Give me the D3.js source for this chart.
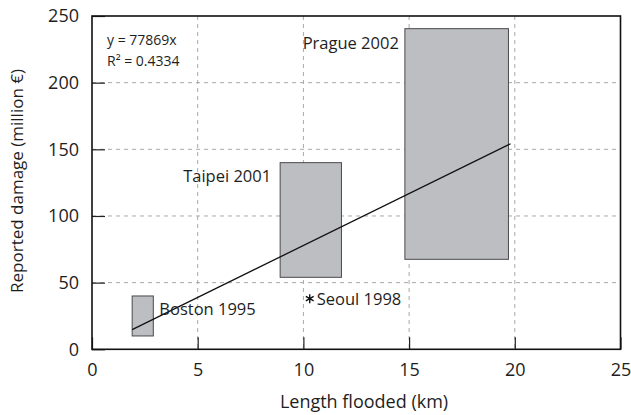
<!DOCTYPE html>
<html>
<head>
<meta charset="utf-8">
<script src="https://cdn.jsdelivr.net/npm/d3@7"></script>
<style>
  html, body { margin: 0; padding: 0; background: #fff; }
  svg { display: block; }
  text { font-family: "Open Sans", "Noto Sans", sans-serif; font-weight: 400; fill: #1e1e1e; }
</style>
</head>
<body>
<svg id="chart" width="631" height="415"></svg>
<script>
// Flood events: extent of flooded length (km) and reported damage (million €)
const events   = ["Boston 1995", "Taipei 2001", "Prague 2002"];
const lenMin   = [1.9, 8.9, 14.8];
const lenMax   = [2.9, 11.8, 19.7];
const dmgMin   = [10, 54, 67.5];
const dmgMax   = [40, 140, 240.5];

// Single point event
const pointName = ["Seoul 1998"];
const pointLen  = [10.3];
const pointDmg  = [38];

// Linear fit through the origin: damage = 7.7869 * length
const fitSlope  = 7.7869;
const fitRange  = [1.9, 19.8];
const fitText   = ["y = 77869x", "R² = 0.4334"];

const xTicks = [0, 5, 10, 15, 20, 25];
const yTicks = [0, 50, 100, 150, 200, 250];

const svg = d3.select("#chart");
const plotL = 92, plotR = 620.5, plotT = 16, plotB = 349.3;

const x = d3.scaleLinear().domain([0, 25]).range([plotL, plotR]);
const y = d3.scaleLinear().domain([0, 250]).range([plotB, plotT]);

// Dashed grid
const grid = svg.append("g");
grid.selectAll("line.gx").data(xTicks.slice(1, -1)).join("line")
  .attr("x1", d => x(d)).attr("x2", d => x(d))
  .attr("y1", plotT).attr("y2", plotB)
  .attr("stroke", "#a8a8a8").attr("stroke-width", 1).attr("stroke-dasharray", "4,4");
grid.selectAll("line.gy").data(yTicks.slice(1, -1)).join("line")
  .attr("x1", plotL).attr("x2", plotR)
  .attr("y1", d => y(d)).attr("y2", d => y(d))
  .attr("stroke", "#a8a8a8").attr("stroke-width", 1).attr("stroke-dasharray", "4,4");

// Range boxes
svg.append("g").selectAll("rect").data(events).join("rect")
  .attr("x", (d, i) => x(lenMin[i]))
  .attr("y", (d, i) => y(dmgMax[i]))
  .attr("width", (d, i) => x(lenMax[i]) - x(lenMin[i]))
  .attr("height", (d, i) => y(dmgMin[i]) - y(dmgMax[i]))
  .attr("fill", "#bdbec2").attr("stroke", "#4a4a4a").attr("stroke-width", 1);

// Trend line
svg.append("line")
  .attr("x1", x(fitRange[0])).attr("y1", y(fitSlope * fitRange[0]))
  .attr("x2", x(fitRange[1])).attr("y2", y(fitSlope * fitRange[1]))
  .attr("stroke", "#111").attr("stroke-width", 1.3);

// Event labels placed beside their boxes
const place = {
  "Boston 1995": { side: "right", gap: 6,  dy: -1 },
  "Taipei 2001": { side: "left",  gap: 9,  dy: -19 },
  "Prague 2002": { side: "left",  gap: 6,  dy: -20 }
};
svg.append("g").selectAll("text").data(events).join("text")
  .attr("x", (d, i) => place[d].side === "right" ? x(lenMax[i]) + place[d].gap : x(lenMin[i]) - place[d].gap)
  .attr("y", (d, i) => place[d].side === "right"
      ? y((dmgMin[i] + dmgMax[i]) / 2) + place[d].dy
      : y(dmgMax[i]) - place[d].dy)
  .attr("text-anchor", d => place[d].side === "right" ? "start" : "end")
  .style("font-size", "16.5px")
  .text(d => d);

// Point event: asterisk marker with label
const ptGroup = svg.append("g");
pointName.forEach((name, i) => {
  const cx = x(pointLen[i]), cy = y(pointDmg[i]), r = 4.5;
  const p = d3.path();
  for (let k = 0; k < 3; k++) {
    const a = Math.PI / 2 + k * Math.PI / 3;
    p.moveTo(cx + r * Math.cos(a), cy + r * Math.sin(a));
    p.lineTo(cx - r * Math.cos(a), cy - r * Math.sin(a));
  }
  ptGroup.append("path").attr("d", p.toString()).attr("stroke", "#111").attr("stroke-width", 1.4).attr("fill", "none");
  ptGroup.append("text").attr("x", cx + 7).attr("y", cy + 6)
    .style("font-size", "16.5px").text(name);
});

// Fit equation
svg.append("g").selectAll("text").data(fitText).join("text")
  .attr("x", 107).attr("y", (d, i) => 45 + i * 21)
  .style("font-size", "14px")
  .text(d => d);

// Axes with inward ticks
const xAxis = svg.append("g").attr("transform", `translate(0,${plotB})`)
  .call(d3.axisBottom(x).tickValues(xTicks).tickSize(-12).tickPadding(14).tickFormat(d3.format("d")));
const yAxis = svg.append("g").attr("transform", `translate(${plotL},0)`)
  .call(d3.axisLeft(y).tickValues(yTicks).tickSize(-13).tickPadding(13).tickFormat(d3.format("d")));
[xAxis, yAxis].forEach(g => {
  g.select(".domain").remove();
  g.selectAll(".tick line").attr("stroke", "#222").attr("stroke-width", 1.2);
  g.selectAll(".tick text").style("font-size", "18px").style("font-family", "\"Open Sans\", sans-serif").attr("fill", "#1e1e1e");
});

// Plot frame
svg.append("rect").attr("x", plotL).attr("y", plotT)
  .attr("width", plotR - plotL).attr("height", plotB - plotT)
  .attr("fill", "none").attr("stroke", "#111").attr("stroke-width", 1.6);

// Axis titles
svg.append("text").attr("x", 364).attr("y", 408).attr("text-anchor", "middle")
  .style("font-size", "18px").text("Length flooded (km)");
svg.append("text").attr("transform", "translate(23,181) rotate(-90)").attr("text-anchor", "middle")
  .style("font-size", "17px").text("Reported damage (million €)");
</script>
</body>
</html>
